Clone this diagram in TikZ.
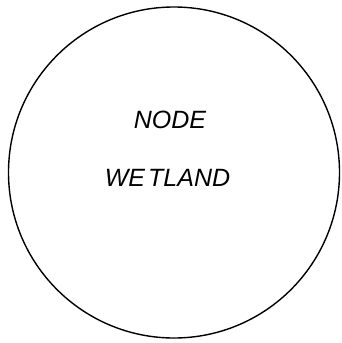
\documentclass[tikz,border=0pt]{standalone}
\usepackage{fontspec}
\setmainfont{Liberation Sans}
\begin{document}
\begin{tikzpicture}[x=1pt,y=-1pt,
  lbl/.style={font=\fontsize{25}{26}\selectfont\itshape, inner sep=0pt, anchor=center}]
\useasboundingbox (0,0) rectangle (342,343);
\node[draw, line width=1.4pt, circle, minimum size=331pt, inner sep=0pt] (c) at (174,172.5) {};
\node[lbl] (n1) at (170,119.5) {NODE};
\node[lbl] (n2) at (167.5,178) {WE\kern3pt TLAND};
\end{tikzpicture}
\end{document}
